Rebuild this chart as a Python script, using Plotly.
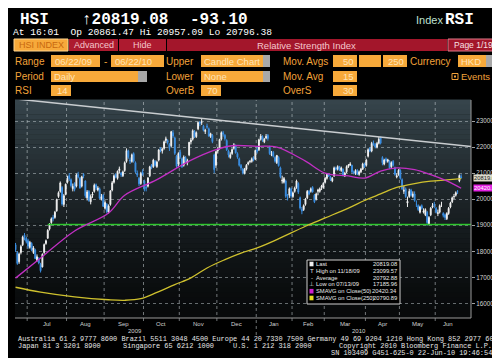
import pandas as pd
import plotly.graph_objects as go

# ---------------- data ----------------
HOLIDAYS = ['2009-07-01', '2009-10-01', '2009-10-26', '2009-12-25', '2010-01-01',
            '2010-02-15', '2010-02-16', '2010-04-02', '2010-04-05', '2010-04-06',
            '2010-05-21', '2010-06-16']

opens = [
    18250, 17950, 17600, 17950, 18250, 18620, 18500,  # Jun 09
    18400, 18150, 18300, 17950, 18050, 17650, 17700, 17500, 17400, 17950, 18300, 18500, 18850, 19100, 19300, 19300, 19550, 20100, 20300, 20450, 19800, 20200,  # Jul
    20650, 20900, 20750, 20400, 20600, 20500, 20950, 20800, 20500, 20950, 20700, 20050, 20300, 19900, 20150, 20300, 20550, 20350, 20400, 20000, 20150,  # Aug
    19650, 19800, 19500, 19800, 20350, 20650, 20950, 20800, 21100, 21000, 20900, 21100, 21450, 21850, 21500, 21450, 21750, 21400, 21000, 20800, 20600, 21050,  # Sep
    20700, 20450, 20500, 20900, 21300, 21250, 21450, 21250, 21500, 21950, 21850, 21950, 22250, 22250, 22100, 22050, 22550, 22350, 21650, 21350,  # Oct
    21800, 21550, 21300, 21600, 21400, 21700, 22200, 22300, 22600, 22400, 22700, 22950, 22950, 22800, 22600, 22800, 22700, 22400, 22450, 21700, 21300,  # Nov
    21850, 21950, 22300, 22550, 22450, 22250, 21850, 21600, 21750, 21950, 22050, 21750, 21550, 21300, 21150, 21000, 21150, 21350, 21450, 21450, 21600, 21550,  # Dec
    21900, 21900, 22300, 22400, 22200, 22350, 22450, 22000, 21700, 21800, 21600, 21400, 21600, 21200, 20700, 20650, 20700, 20050, 20150, 20400,  # Jan 10
    20100, 20300, 20450, 20600, 20050, 19600, 19600, 19800, 20050, 20300, 20300, 20450, 20150, 20000, 20300, 20300, 20450, 20450,  # Feb
    20650, 20800, 20950, 20850, 20700, 20900, 21200, 21150, 21250, 21100, 21150, 20900, 21050, 21250, 21300, 21300, 21050, 20980, 21100, 20950, 21050, 21150, 21350,  # Mar
    21300, 21650, 21950, 21850, 22150, 22100, 22000, 22150, 22350, 21600, 21350, 21550, 21450, 21450, 21250, 21450, 21200, 20850, 20950,  # Apr
    21100, 20750, 20300, 20400, 19850, 20100, 20350, 20100, 20200, 19800, 19750, 19500, 19750, 19500, 19400, 19500, 19050, 19400, 19700, 19800,  # May
    19650, 19450, 19500, 19800, 19450, 19400, 19250, 19450, 19700, 19900, 20100, 20150, 20300, 20700, 20861.47,  # Jun
]
highs = [
    18320, 18000, 17950, 18250, 18600, 18700, 18560,
    18480, 18400, 18350, 18200, 18100, 17880, 17780, 17560, 17920, 18300, 18450, 18850, 19080, 19300, 19400, 19550, 20020, 20300, 20680, 20500, 20200, 20600,
    20900, 21000, 20800, 20600, 20650, 20980, 21050, 20850, 20900, 21000, 20720, 20350, 20350, 20180, 20280, 20600, 20600, 20500, 20450, 20200, 20200,
    19950, 19850, 19800, 20350, 20700, 20950, 21000, 21100, 21250, 21050, 21100, 21450, 21950, 21900, 21600, 21750, 21800, 21450, 21100, 20850, 21050, 21150,
    20750, 20550, 20850, 21280, 21350, 21550, 21500, 21480, 21920, 22000, 21980, 22250, 22400, 22300, 22150, 22620, 22650, 22400, 21700, 21800,
    21900, 21600, 21680, 21650, 21550, 22200, 22350, 22680, 22650, 22600, 22980, 23000, 23099.57, 22850, 22700, 22900, 22750, 22550, 22500, 21750, 21850,
    22000, 22320, 22600, 22620, 22500, 22300, 21900, 21800, 21950, 22150, 22100, 21800, 21600, 21350, 21200, 21200, 21350, 21450, 21500, 21600, 21650, 21900,
    22000, 22320, 22500, 22450, 22350, 22500, 22500, 22050, 21850, 21850, 21650, 21700, 21650, 21250, 20900, 20850, 20750, 20200, 20450, 20450,
    20300, 20480, 20750, 20650, 20100, 19700, 19800, 20050, 20350, 20350, 20450, 20500, 20200, 20250, 20400, 20450, 20550, 20650,
    20850, 21000, 21000, 20900, 20850, 21250, 21250, 21300, 21280, 21250, 21180, 21050, 21300, 21350, 21420, 21320, 21100, 21150, 21150, 21100, 21200, 21400, 21400,
    21550, 21950, 22000, 22200, 22250, 22150, 22200, 22388, 22400, 21650, 21550, 21600, 21550, 21500, 21450, 21500, 21250, 21000, 21150,
    21150, 20800, 20500, 20450, 20100, 20400, 20400, 20300, 20300, 19950, 19800, 19750, 19800, 19650, 19650, 19550, 19350, 19700, 19850, 19900,
    19700, 19600, 19800, 19900, 19500, 19450, 19500, 19700, 19900, 20100, 20200, 20300, 20350, 20950, 20957.09,
]
lows = [
    17980, 17480, 17520, 17880, 18200, 18420, 18300,
    18100, 18100, 18000, 17900, 17700, 17600, 17500, 17185.96, 17380, 17900, 18250, 18480, 18800, 19050, 19150, 19250, 19520, 20050, 20250, 19750, 19700, 20150,
    20600, 20700, 20450, 20300, 20300, 20450, 20800, 20400, 20450, 20800, 20050, 19950, 19900, 19800, 20050, 20250, 20350, 20300, 20000, 19950, 19700,
    19600, 19450, 19450, 19750, 20300, 20600, 20800, 20750, 21000, 20850, 20850, 21050, 21400, 21550, 21350, 21400, 21400, 21000, 20850, 20500, 20550, 20900,
    20300, 20300, 20450, 20850, 21150, 21200, 21250, 21200, 21450, 21800, 21750, 21900, 22150, 22100, 21850, 22000, 22350, 21700, 21200, 21250,
    21550, 21200, 21250, 21400, 21300, 21650, 22100, 22250, 22350, 22350, 22650, 22800, 22850, 22600, 22500, 22700, 22400, 22350, 22150, 21000, 21200,
    21750, 21900, 22250, 22400, 22250, 21850, 21600, 21550, 21700, 21900, 21750, 21550, 21250, 21100, 20950, 20950, 21100, 21300, 21380, 21400, 21450, 21500,
    21750, 21850, 22250, 22200, 22150, 22300, 22250, 21700, 21650, 21600, 21400, 21350, 21250, 20800, 20600, 20600, 20050, 19950, 20050, 20050,
    20050, 20250, 20400, 20200, 19600, 19423, 19550, 19750, 20000, 20150, 20250, 20250, 19850, 19950, 20150, 20250, 20350, 20400,
    20600, 20750, 20850, 20700, 20650, 20850, 21100, 21100, 21080, 21050, 20880, 20850, 21000, 21200, 21280, 21000, 20950, 20930, 20930, 20900, 21000, 21120, 21200,
    21250, 21600, 21800, 21800, 22050, 21950, 21950, 22100, 22100, 21300, 21300, 21400, 21400, 21150, 21200, 21250, 20900, 20800, 20900,
    20750, 20350, 20200, 20050, 19700, 20050, 20100, 20050, 19900, 19700, 19550, 19450, 19600, 19450, 19350, 18985, 19000, 19350, 19650, 19650,
    19450, 19350, 19450, 19700, 19300, 19200, 19200, 19400, 19650, 19850, 20000, 20100, 20200, 20650, 20796.38,
]
closes = [
    18059, 17535, 17892, 18180, 18543, 18529, 18378,
    18200, 18342, 18050, 18131, 17721, 17790, 17550, 17254, 17885, 18257, 18404, 18805, 19015, 19246, 19249, 19502, 19983, 20251, 20624, 19814, 20135, 20573,
    20807, 20796, 20520, 20494, 20375, 20929, 20860, 20435, 20861, 20894, 20130, 20280, 19950, 20100, 20199, 20535, 20435, 20431, 20033, 20098, 19724,
    19872, 19522, 19742, 20318, 20629, 20897, 20851, 21069, 21161, 20932, 21050, 21402, 21866, 21623, 21472, 21702, 21454, 21050, 20925, 20588, 20989, 20955,
    20375, 20429, 20811, 21240, 21221, 21499, 21300, 21423, 21886, 21890, 21929, 22200, 22318, 22180, 21950, 22590, 22423, 21761, 21264, 21752,
    21620, 21240, 21615, 21480, 21479, 22180, 22269, 22627, 22397, 22553, 22943, 22914, 22963, 22643, 22641, 22771, 22423, 22511, 22210, 21134, 21821,
    21918, 22289, 22553, 22498, 22324, 21900, 21700, 21705, 21902, 22086, 21780, 21612, 21300, 21200, 21000, 21150, 21300, 21400, 21450, 21550, 21500, 21872,
    21823, 22280, 22416, 22269, 22296, 22411, 22326, 21748, 21716, 21654, 21460, 21677, 21286, 20862, 20726, 20790, 20110, 20033, 20400, 20122,
    20244, 20420, 20700, 20270, 19665, 19550, 19750, 20000, 20300, 20200, 20400, 20280, 19900, 20200, 20350, 20400, 20500, 20608,
    20800, 20950, 20880, 20750, 20800, 21200, 21150, 21250, 21120, 21200, 20900, 21000, 21250, 21300, 21350, 21050, 21000, 21100, 20950, 21050, 21150, 21350, 21239,
    21500, 21900, 21850, 22140, 22100, 22000, 22140, 22300, 22150, 21400, 21500, 21480, 21510, 21200, 21400, 21300, 20950, 20900, 21108,
    20800, 20400, 20350, 20100, 19920, 20300, 20150, 20200, 19950, 19800, 19600, 19700, 19650, 19550, 19600, 19100, 19300, 19650, 19750, 19765,
    19500, 19480, 19750, 19800, 19380, 19300, 19450, 19650, 19850, 20050, 20100, 20250, 20290, 20912, 20819.08,
]

sma50_dates = ['2009-06-22', '2009-07-13', '2009-08-07', '2009-09-03', '2009-09-16', '2009-10-13',
               '2009-11-09', '2009-11-30', '2009-12-11', '2010-01-04', '2010-01-19', '2010-02-10',
               '2010-03-01', '2010-03-18', '2010-03-31', '2010-04-16', '2010-04-29', '2010-05-13',
               '2010-05-27', '2010-06-09', '2010-06-22']
sma50_vals = [16970, 17740, 18780, 19470, 20150, 20750, 21460, 21900, 22050, 22030, 22000, 21460,
              21000, 20890, 20810, 21080, 21200, 21130, 20940, 20700, 20420.34]

sma250_dates = ['2009-06-22', '2009-07-13', '2009-08-07', '2009-09-03', '2009-09-16', '2009-09-29',
                '2009-10-13', '2009-10-28', '2009-11-10', '2009-11-23', '2009-12-07', '2009-12-18',
                '2010-01-04', '2010-01-19', '2010-02-10', '2010-03-01', '2010-03-18', '2010-03-31',
                '2010-04-16', '2010-04-29', '2010-05-13', '2010-05-27', '2010-06-09', '2010-06-22']
sma250_vals = [16620, 16430, 16250, 16140, 16120, 16180, 16420, 16720, 16980, 17360, 17680, 17930,
               18130, 18450, 18960, 19280, 19660, 19950, 20200, 20450, 20600, 20690, 20740, 20790.89]

trend_dates = ['2009-11-18', '2010-04-15']      # trendline through the two highs
trend_vals = [23099.57, 22388.0]
support_start = '2009-07-17'
support_val = 19030

y_ticks = [16000, 17000, 18000, 19000, 20000, 21000, 22000, 23000]

legend_rows = [('Last', '20819.08'), ('High on 11/18/09', '23099.57'), ('Average', '20792.88'),
               ('Low on 07/13/09', '17185.96'), ('SMAVG on Close(50)', '20420.34'),
               ('SMAVG on Close(250)', '20790.89')]

# ---------------- geometry / style ----------------
W, H = 500, 358
L, R, T, B = 7, 463, 92, 310
PW, PH = R - L, B - T
XR = [-0.3, 254.5]
YR = [15440, 23806]

ORANGE = '#f2a23a'
BOXC = '#f7a93a'
BOXT = '#fde3b8'
RED = '#ad1a2f'
SANS = 'Liberation Sans, Arial, sans-serif'
MONO = 'Liberation Mono, DejaVu Sans Mono, monospace'


def px(x):
    return (x - L) / PW


def py(y):
    return (B - y) / PH


dates = [d for d in pd.bdate_range('2009-06-22', '2010-06-22') if d.strftime('%Y-%m-%d') not in HOLIDAYS]
N = len(dates)
assert N == len(opens) == len(highs) == len(lows) == len(closes), (N, len(opens), len(highs), len(lows), len(closes))
pos = {d.strftime('%Y-%m-%d'): i for i, d in enumerate(dates)}
xi = list(range(N))

fig = go.Figure()

# background gradient bands
nb = 44
for k in range(nb):
    f = k / (nb - 1)
    g = (1 - f) ** 1.3
    c = (int(8 + 46 * g), int(10 + 58 * g), int(11 + 64 * g))
    fig.add_shape(type='rect', xref='paper', yref='paper', x0=0, x1=1,
                  y0=1 - (k + 1) / nb, y1=1 - k / nb + 0.002,
                  fillcolor='rgb(%d,%d,%d)' % c, line=dict(width=0), layer='below')

# month gridlines
months = [d.strftime('%Y-%m') for d in dates]
starts = [i for i in range(1, N) if months[i] != months[i - 1]]
for s in starts:
    ybot = py(327) if dates[s].month == 1 else py(313)
    fig.add_shape(type='line', xref='x', yref='paper', x0=s - 0.5, x1=s - 0.5, y0=ybot, y1=1,
                  line=dict(color='rgba(200,208,212,0.55)', width=1, dash='dot'), layer='below')

# support (green), trendline (white)
sx = [pos[support_start], XR[1]]
fig.add_trace(go.Scatter(x=sx, y=[support_val, support_val], mode='lines',
                         line=dict(color='#2fc72f', width=1.6), hoverinfo='skip'))
i1, i2 = pos[trend_dates[0]], pos[trend_dates[1]]
slope = (trend_vals[1] - trend_vals[0]) / (i2 - i1)
tx = [XR[0], XR[1]]
ty = [trend_vals[0] + slope * (t - i1) for t in tx]
fig.add_trace(go.Scatter(x=tx, y=ty, mode='lines', line=dict(color='#c9cdd0', width=1.5), hoverinfo='skip'))

# moving averages
fig.add_trace(go.Scatter(x=[pos[d] for d in sma250_dates], y=sma250_vals, mode='lines',
                         line=dict(color='#cfc12e', width=1.3, shape='spline'), hoverinfo='skip'))
fig.add_trace(go.Scatter(x=[pos[d] for d in sma50_dates], y=sma50_vals, mode='lines',
                         line=dict(color='#c22fc4', width=1.3, shape='spline'), hoverinfo='skip'))

# candles
fig.add_trace(go.Candlestick(x=xi, open=opens, high=highs, low=lows, close=closes,
                             increasing=dict(line=dict(color='#f2f2f2', width=1), fillcolor='#f2f2f2'),
                             decreasing=dict(line=dict(color='#3b8fe3', width=1), fillcolor='#3b8fe3'),
                             whiskerwidth=0, hoverinfo='skip'))

fig.update_layout(
    width=W, height=H, showlegend=False,
    margin=dict(l=L, r=W - R, t=T, b=H - B, pad=0),
    paper_bgcolor='black', plot_bgcolor='rgba(0,0,0,0)',
    xaxis=dict(range=XR, showgrid=False, zeroline=False, showticklabels=False, ticks='',
               rangeslider=dict(visible=False), showline=False),
    yaxis=dict(range=YR, side='right', tickvals=y_ticks, tickformat='d',
               tickfont=dict(size=6.3, color='#d2d2d2', family=SANS), ticks='outside', ticklen=3,
               tickcolor='#a0a0a0', showgrid=True, gridcolor='rgba(195,205,210,0.5)', griddash='dot',
               gridwidth=1, zeroline=False, showline=False),
)

# axis frame lines
fig.add_shape(type='line', xref='paper', yref='paper', x0=0, x1=1, y0=0, y1=0,
              line=dict(color='#9a9a9a', width=1))
fig.add_shape(type='line', xref='paper', yref='paper', x0=1, x1=1, y0=0, y1=1,
              line=dict(color='#9a9a9a', width=1))


def text(x, y, s, size=10, color=ORANGE, anchor='left', family=SANS, bold=False, xr='paper'):
    fig.add_annotation(x=px(x) if xr == 'paper' else x, y=py(y), xref=xr, yref='paper', text=s,
                       showarrow=False, xanchor=anchor, yanchor='middle', borderpad=0,
                       font=dict(size=size, color=color, family=family,
                                 weight='bold' if bold else 'normal'))


def rect(x0, y0, x1, y1, fill, line=None, lw=1):
    fig.add_shape(type='rect', xref='paper', yref='paper', x0=px(x0), x1=px(x1), y0=py(y1), y1=py(y0),
                  fillcolor=fill, line=dict(color=line if line else fill, width=lw if line else 0),
                  layer='above')


# month + year labels
for k, s in enumerate(starts):
    nxt = starts[k + 1] - 0.5 if k + 1 < len(starts) else N - 1
    text((s - 0.5 + nxt) / 2, 315.5, dates[s].strftime('%b'), size=6, color='#d0d0d0',
         anchor='center', xr='x')
for yr in (2009, 2010):
    idx = [i for i, d in enumerate(dates) if d.year == yr]
    text((idx[0] + idx[-1]) / 2, 322.5, str(yr), size=6, color='#d0d0d0', anchor='center', xr='x')

# header
text(11, 11.5, 'HSI', size=16, color='white', family=MONO, bold=True)
text(73, 11.5, '\u219120819.08', size=16, color='white', family=MONO, bold=True)
text(181, 11.5, '-93.10', size=16, color='white', family=MONO, bold=True)
text(407, 12.5, 'Index', size=11, color='#bfe0d0', family=SANS)
text(436, 11.5, 'RSI', size=16, color='white', family=MONO, bold=True)
text(4, 24.5, 'At 16:01  Op 20861.47 Hi 20957.09 Lo 20796.38', size=9.6, color='white', family=MONO)

rect(6, 31, 60, 43, BOXC, '#ffd590')
text(33, 37.3, 'HSI INDEX', size=9, color='#c8680e', anchor='center')
rect(61, 31, 110, 43, RED)
text(85.5, 37.3, 'Advanced', size=9, color='#f4c6cc', anchor='center')
rect(111, 31, 158, 43, RED)
text(134.5, 37.3, 'Hide', size=9, color='#f4c6cc', anchor='center')
rect(159, 31, 439, 43, '#a3162b')
text(298, 37.3, 'Relative Strength Index', size=9.5, color='#f4c6cc', anchor='center')
rect(440, 31, 491, 43, '#a3162b', '#e07a8a')
text(465.5, 37.3, 'Page 1/19', size=8.5, color='#f8e0e4', anchor='center')

# row 4
text(6, 53, 'Range', size=10)
rect(43, 47, 92, 59, BOXC)
text(46, 53, '06/22/09', size=9.5, color=BOXT)
text(97, 53, '-', size=10, anchor='center')
rect(103, 47, 156, 59, BOXC)
text(106, 53, '06/22/10', size=9.5, color=BOXT)
text(157, 53, 'Upper', size=10)
rect(193, 47, 255, 59, BOXC)
text(195, 53, 'Candle Chart', size=9.5, color=BOXT)
rect(255, 47, 262, 59, '#a8a8a8')
text(274, 53, 'Mov. Avgs', size=10)
rect(325, 47, 349, 59, BOXC)
text(347, 53, '50', size=9.5, color=BOXT, anchor='right')
rect(351, 47, 373, 59, BOXC)
rect(375, 47, 399, 59, BOXC)
text(397, 53, '250', size=9.5, color=BOXT, anchor='right')
text(401, 53, 'Currency', size=10)
rect(450, 47, 478, 59, BOXC)
text(452, 53, 'HKD', size=9.5, color=BOXT)
rect(478, 47, 485, 59, '#a8a8a8')

# row 5
text(6, 68.5, 'Period', size=10)
rect(43, 63, 130, 74, BOXC)
text(45, 68.5, 'Daily', size=9.5, color=BOXT)
rect(130, 63, 139, 74, '#a8a8a8')
text(157, 68.5, 'Lower', size=10)
rect(193, 63, 255, 74, BOXC)
text(195, 68.5, 'None', size=9.5, color=BOXT)
rect(255, 63, 262, 74, '#a8a8a8')
text(274, 68.5, 'Mov. Avg', size=10)
rect(325, 63, 349, 74, BOXC)
text(347, 68.5, '15', size=9.5, color=BOXT, anchor='right')
rect(444, 65.5, 450, 71.5, 'black', ORANGE)
rect(446, 67.5, 448, 69.5, ORANGE)
text(452, 68.5, 'Events', size=9.5)

# row 6
text(6, 82.5, 'RSI', size=10)
rect(43, 77, 63, 88, BOXC)
text(61, 82.5, '14', size=9.5, color=BOXT, anchor='right')
text(157, 82.5, 'OverB', size=10)
rect(193, 77, 213, 88, BOXC)
text(211, 82.5, '70', size=9.5, color=BOXT, anchor='right')
text(274, 82.5, 'OverS', size=10)
rect(325, 77, 349, 88, BOXC)
text(347, 82.5, '30', size=9.5, color=BOXT, anchor='right')

# legend box
rect(299, 252, 392, 296, 'black', '#cfcfcf')
icons = [('sq', '#f0f0f0'), ('T', '#e0e0e0'), ('-', '#e0e0e0'), ('\u22a5', '#e0e0e0'),
         ('sq', '#d020d0'), ('sq', '#e8e020')]
for r, ((lab, val), (kind, col)) in enumerate(zip(legend_rows, icons)):
    yy = 256 + r * 6.8
    if kind == 'sq':
        rect(301.5, yy - 2.3, 305.5, yy + 2.3, col)
    else:
        text(303.5, yy, kind, size=6, color=col, anchor='center')
    text(306.5, yy, lab, size=5.8, color='#e8e8e8')
    text(390, yy, val, size=5.8, color='#e8e8e8', anchor='right')

# right-side value tags
fig.add_annotation(x=px(464.5), y=closes[-1], xref='paper', yref='y', text='20819.08', showarrow=False,
                   xanchor='left', yanchor='middle', bgcolor='#dcdccc', borderpad=0,
                   font=dict(size=5.8, color='#202020', family=SANS))
fig.add_annotation(x=px(464.5), y=sma50_vals[-1], xref='paper', yref='y', text='20420.34', showarrow=False,
                   xanchor='left', yanchor='middle', bgcolor='#e021e0', borderpad=0,
                   font=dict(size=5.8, color='#ffffff', family=SANS))

# scrollbar & frame
rect(488, 92, 493, 327, '#bdbdbd')
fig.add_shape(type='line', xref='paper', yref='paper', x0=px(0), x1=px(500), y0=py(357), y1=py(357),
              line=dict(color='#8a8a8a', width=1))

# footer
FT = '#e6e6e6'
FS = 6.9
text(9, 331, 'Australia 61 2 9777 8600 Brazil 5511 3048 4500 Europe 44 20 7330 7500 Germany 49 69 9204 1210 Hong Kong 852 2977 6000',
     size=FS, color=FT, family=MONO)
text(9, 338, 'Japan 81 3 3201 8900', size=FS, color=FT, family=MONO)
text(114, 338, 'Singapore 65 6212 1000', size=FS, color=FT, family=MONO)
text(224, 338, 'U.S. 1 212 318 2000', size=FS, color=FT, family=MONO)
text(485, 338, 'Copyright 2010 Bloomberg Finance L.P.', size=FS, color=FT, family=MONO, anchor='right')
text(485, 345, 'SN 103409 G451-625-0 22-Jun-10 19:46:54', size=FS, color=FT, family=MONO, anchor='right')

fig.write_html('out.html')
